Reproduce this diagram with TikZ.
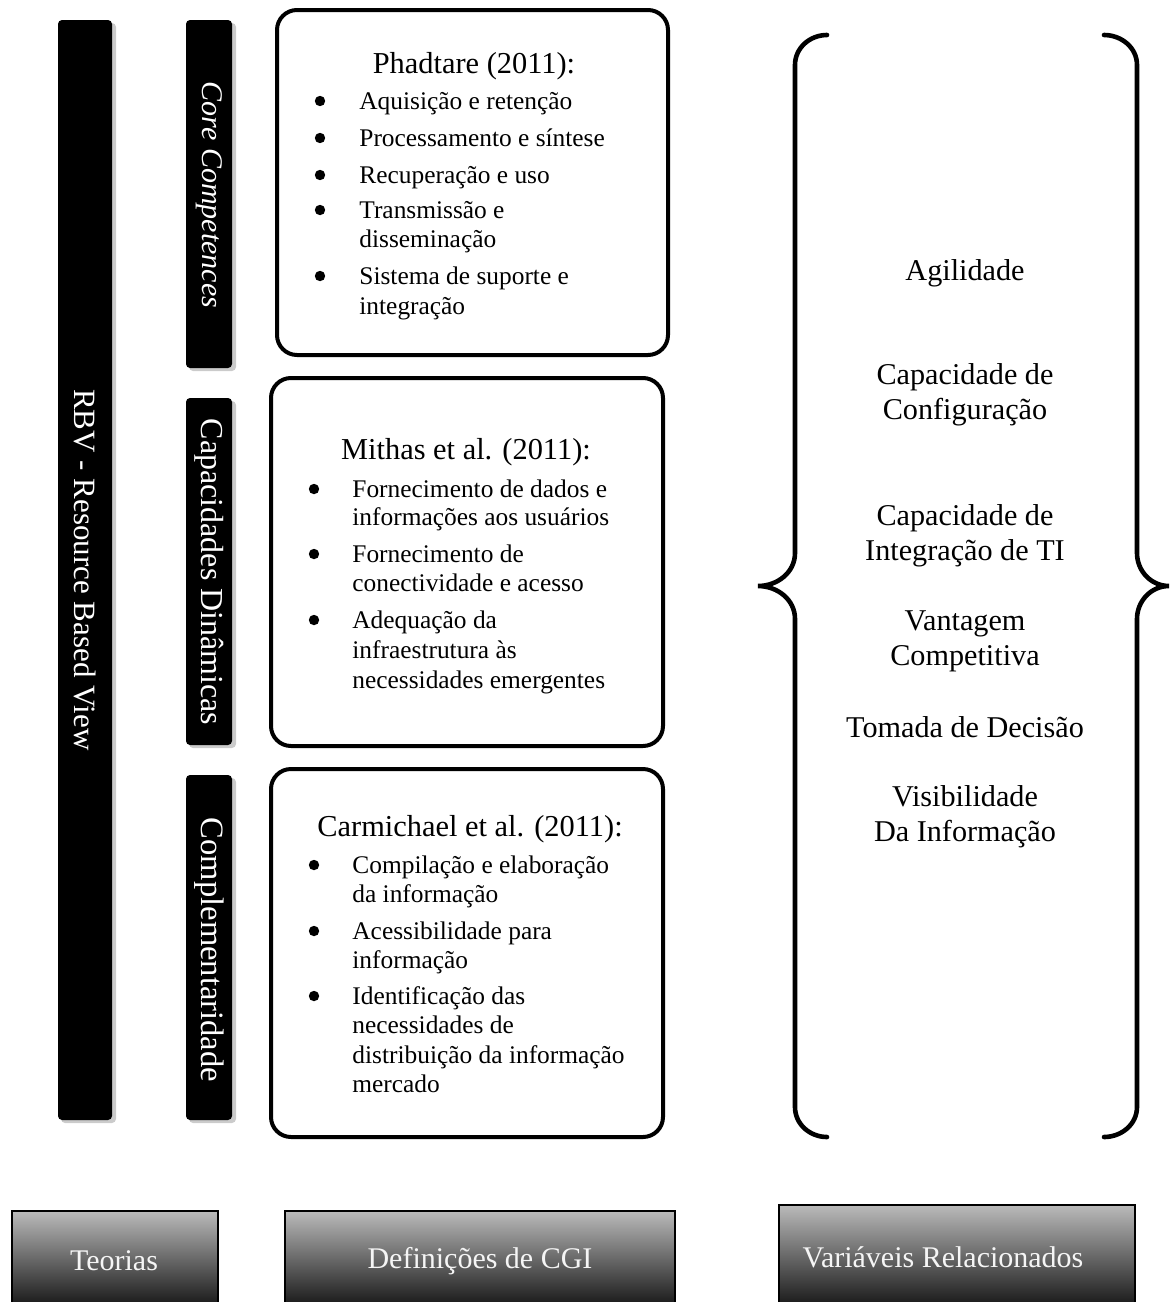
\documentclass[tikz,border=0pt]{standalone}
\usepackage{fontspec}
\setmainfont{Liberation Serif}
\usetikzlibrary{positioning}

\begin{document}
\begin{tikzpicture}[x=0.5pt, y=-0.5pt,
    barfill/.style={fill=black, rounded corners=2pt},
    barshadow/.style={fill=black!45, opacity=0.45, rounded corners=2pt},
    bartext/.style={text=white, rotate=-90, inner sep=0, font=\fontsize{15.5}{18}\selectfont},
    cgibox/.style={line width=2pt, rounded corners=10pt},
    reftitle/.style={anchor=base, inner sep=0, font=\fontsize{15.2}{18}\selectfont},
    itemline/.style={anchor=base west, inner sep=0, font=\fontsize{12.7}{15}\selectfont},
    vartext/.style={align=center, inner sep=0, font=\fontsize{15.1}{17.5}\selectfont},
    bracepath/.style={line width=2.3pt, line cap=round},
    botbox/.style={top color=black!27, bottom color=black!88},
    botframe/.style={line width=1pt},
    bottext/.style={text=black!4, inner sep=0, font=\fontsize{15}{18}\selectfont}]
    \useasboundingbox (0,0) rectangle (1171,1302);

    % Theory bars
    \fill[barshadow] (61,23) rectangle (116,1123);
    \fill[barfill] (58,20) rectangle (112,1120);
    \node[bartext] (rbv) at (85,570) {RBV - Resource Based View};
    \fill[barshadow] (189,23) rectangle (236,371);
    \fill[barfill] (186,20) rectangle (232,368);
    \node[bartext, font=\fontsize{15}{18}\selectfont\itshape] (core) at (209,195) {Core Competences};
    \fill[barshadow] (189,401) rectangle (236,748);
    \fill[barfill] (186,398) rectangle (232,745);
    \node[bartext, font=\fontsize{16}{18}\selectfont] (capdin) at (209,572) {Capacidades Dinâmicas};
    \fill[barshadow] (189,778) rectangle (236,1123);
    \fill[barfill] (186,775) rectangle (232,1120);
    \node[bartext, font=\fontsize{16.3}{18}\selectfont] (compl) at (209,950) {Complementaridade};

    % Box 1: Phadtare
    \draw[cgibox] (277,10) rectangle (668,355);
    \node[reftitle] (phad) at (474,73) {Phadtare (2011):};
    \node[itemline] (phad-a) at (359,109) {Aquisição e retenção};
    \node[itemline] (phad-b) at (359,146) {Processamento e síntese};
    \node[itemline] (phad-c) at (359,183) {Recuperação e uso};
    \node[itemline] (phad-d) at (359,218) {Transmissão e};
    \node[itemline] (phad-d2) at (359,247) {disseminação};
    \node[itemline] (phad-e) at (359,284) {Sistema de suporte e};
    \node[itemline] (phad-e2) at (359,314) {integração};
    \fill (320,101) circle (2.6pt);
    \fill (320,138) circle (2.6pt);
    \fill (320,175) circle (2.6pt);
    \fill (320,210) circle (2.6pt);
    \fill (320,276) circle (2.6pt);

    % Box 2: Mithas et al.
    \draw[cgibox] (271,378) rectangle (663,746);
    \node[reftitle] (mith) at (466,459) {Mithas et al. (2011):};
    \node[itemline] (mith-a) at (352,497) {Fornecimento de dados e};
    \node[itemline] (mith-a2) at (352,525) {informações aos usuários};
    \node[itemline] (mith-b) at (352,562) {Fornecimento de};
    \node[itemline] (mith-b2) at (352,591) {conectividade e acesso};
    \node[itemline] (mith-c) at (352,628) {Adequação da};
    \node[itemline] (mith-c2) at (352,658) {infraestrutura às};
    \node[itemline] (mith-c3) at (352,688) {necessidades emergentes};
    \fill (314,489) circle (2.6pt);
    \fill (314,554) circle (2.6pt);
    \fill (314,620) circle (2.6pt);

    % Box 3: Carmichael et al.
    \draw[cgibox] (271,769) rectangle (663,1137);
    \node[reftitle] (carm) at (470,836) {Carmichael et al. (2011):};
    \node[itemline] (carm-a) at (352,873) {Compilação e elaboração};
    \node[itemline] (carm-a2) at (352,902) {da informação};
    \node[itemline] (carm-b) at (352,939) {Acessibilidade para};
    \node[itemline] (carm-b2) at (352,968) {informação};
    \node[itemline] (carm-c) at (352,1004) {Identificação das};
    \node[itemline] (carm-c2) at (352,1033) {necessidades de};
    \node[itemline] (carm-c3) at (352,1063) {distribuição da informação};
    \node[itemline] (carm-c4) at (352,1092) {mercado};
    \fill (314,865) circle (2.6pt);
    \fill (314,931) circle (2.6pt);
    \fill (314,996) circle (2.6pt);

    % Braces
    \draw[bracepath] (827,35) to[out=180,in=90] (795,65) -- (795,553)
      to[out=-90,in=0] (758,586) to[out=0,in=90] (795,619) -- (795,1107)
      to[out=-90,in=180] (827,1137);
    \draw[bracepath] (1104,35) to[out=0,in=90] (1137,65) -- (1137,553)
      to[out=-90,in=180] (1169,586) to[out=180,in=90] (1137,619) -- (1137,1107)
      to[out=-90,in=0] (1104,1137);

    % Related variables
    \node[vartext] (agil) at (965,273) {Agilidade};
    \node[vartext] (config) at (965,395) {Capacidade de\\Configuração};
    \node[vartext] (integ) at (965,536) {Capacidade de\\Integração de TI};
    \node[vartext] (vant) at (965,641) {Vantagem\\Competitiva};
    \node[vartext] (decis) at (965,727) {Tomada de Decisão};
    \node[vartext] (visib) at (965,817) {Visibilidade\\Da Informação};

    % Column headings
    \shade[botbox] (12,1211) rectangle (218,1302);
    \draw[botframe] (12,1302) |- (218,1211) -- (218,1302);
    \node[bottext] (teor) at (114,1261) {Teorias};
    \shade[botbox] (285,1211) rectangle (675,1302);
    \draw[botframe] (285,1302) |- (675,1211) -- (675,1302);
    \node[bottext] (defs) at (480,1261) {Definições de CGI};
    \shade[botbox] (779,1205) rectangle (1135,1302);
    \draw[botframe] (779,1302) |- (1135,1205) -- (1135,1302);
    \node[bottext] (vars) at (943,1257) {Variáveis Relacionados};
\end{tikzpicture}
\end{document}
